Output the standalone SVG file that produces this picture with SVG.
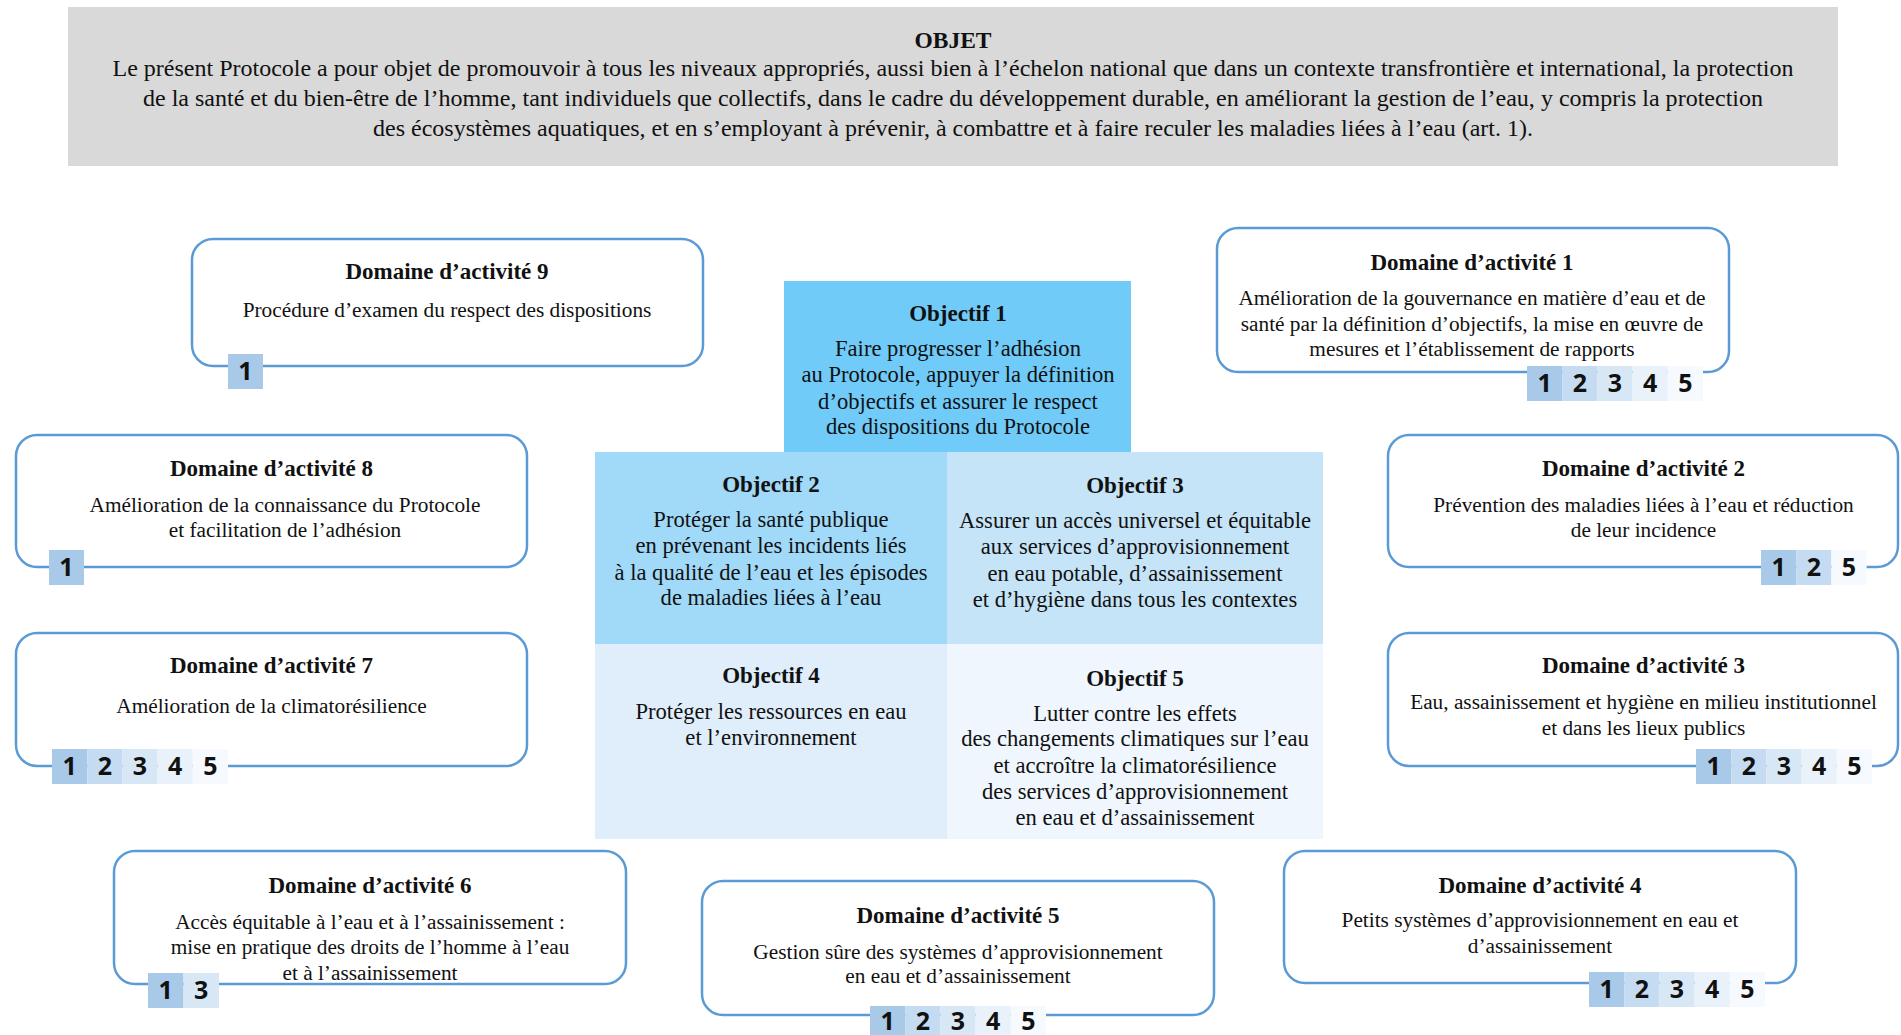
<svg xmlns="http://www.w3.org/2000/svg" width="1901" height="1035" viewBox="0 0 1901 1035">
<style>
.t{font-family:"Liberation Serif","Times New Roman",serif;fill:#111;text-anchor:middle}
.h{font-weight:bold;font-size:23.5px}
.hb{font-size:23px}
.dt{font-weight:bold;font-size:23px}
.db{font-size:21.3px}
.ot{font-weight:bold;font-size:23px}
.ob{font-size:22.6px}
.box{fill:#fff;stroke:#5b9bd5;stroke-width:2.5}
.n{font-family:"Noto Sans","Open Sans",sans-serif;font-weight:bold;font-size:25px;fill:#111;text-anchor:middle}
.c1{fill:#a9c9e8}.c2{fill:#c4dbf1}.c3{fill:#d8e7f6}.c4{fill:#e9f2fb}.c5{fill:#f6fafe}
</style>
<rect width="1901" height="1035" fill="#fff"/>
<g id="objet">
<rect x="68" y="7" width="1770" height="159" fill="#d9d9d9"/>
<text class="t h" x="953" y="48">OBJET</text>
<text class="t hb" x="953" y="76" textLength="1681" lengthAdjust="spacingAndGlyphs">Le présent Protocole a pour objet de promouvoir à tous les niveaux appropriés, aussi bien à l’échelon national que dans un contexte transfrontière et international, la protection</text>
<text class="t hb" x="953" y="106" textLength="1620" lengthAdjust="spacingAndGlyphs">de la santé et du bien-être de l’homme, tant individuels que collectifs, dans le cadre du développement durable, en améliorant la gestion de l’eau, y compris la protection</text>
<text class="t hb" x="953" y="135.5" textLength="1160" lengthAdjust="spacingAndGlyphs">des écosystèmes aquatiques, et en s’employant à prévenir, à combattre et à faire reculer les maladies liées à l’eau (art. 1).</text>
</g>
<g id="objectif1">
<rect x="784" y="281" width="347" height="172" fill="#70cbf9"/>
<text class="t ot" x="958" y="320.5">Objectif 1</text>
<text class="t ob" x="958" y="355.5">Faire progresser l’adhésion</text>
<text class="t ob" x="958" y="382">au Protocole, appuyer la définition</text>
<text class="t ob" x="958" y="409">d’objectifs et assurer le respect</text>
<text class="t ob" x="958" y="434">des dispositions du Protocole</text>
</g>
<g id="objectif2">
<rect x="595" y="452" width="352" height="192" fill="#a1d9f9"/>
<text class="t ot" x="771" y="491.5">Objectif 2</text>
<text class="t ob" x="771" y="526.5">Protéger la santé publique</text>
<text class="t ob" x="771" y="553">en prévenant les incidents liés</text>
<text class="t ob" x="771" y="580">à la qualité de l’eau et les épisodes</text>
<text class="t ob" x="771" y="605">de maladies liées à l’eau</text>
</g>
<g id="objectif3">
<rect x="947" y="452" width="376" height="192" fill="#c6e4f8"/>
<text class="t ot" x="1135" y="493">Objectif 3</text>
<text class="t ob" x="1135" y="527.5">Assurer un accès universel et équitable</text>
<text class="t ob" x="1135" y="554">aux services d’approvisionnement</text>
<text class="t ob" x="1135" y="581">en eau potable, d’assainissement</text>
<text class="t ob" x="1135" y="606.5">et d’hygiène dans tous les contextes</text>
</g>
<g id="objectif4">
<rect x="595" y="644" width="352" height="195" fill="#dfeefa"/>
<text class="t ot" x="771" y="683">Objectif 4</text>
<text class="t ob" x="771" y="719">Protéger les ressources en eau</text>
<text class="t ob" x="771" y="744.5">et l’environnement</text>
</g>
<g id="objectif5">
<rect x="947" y="644" width="376" height="195" fill="#eff6fd"/>
<text class="t ot" x="1135" y="685.5">Objectif 5</text>
<text class="t ob" x="1135" y="720.5">Lutter contre les effets</text>
<text class="t ob" x="1135" y="746">des changements climatiques sur l’eau</text>
<text class="t ob" x="1135" y="772.5">et accroître la climatorésilience</text>
<text class="t ob" x="1135" y="799">des services d’approvisionnement</text>
<text class="t ob" x="1135" y="824.5">en eau et d’assainissement</text>
</g>
<g id="domaine9">
<rect class="box" x="192" y="239" width="511" height="127" rx="21"/>
<text class="t dt" x="447" y="279">Domaine d’activité 9</text>
<text class="t db" x="447" y="317">Procédure d’examen du respect des dispositions</text>
<rect class="c1" x="228" y="354" width="35" height="35"/><text class="n" x="245.5" y="380">1</text>
</g>
<g id="domaine1">
<rect class="box" x="1217" y="228" width="512" height="144" rx="21"/>
<text class="t dt" x="1472" y="269.5">Domaine d’activité 1</text>
<text class="t db" x="1472" y="305">Amélioration de la gouvernance en matière d’eau et de</text>
<text class="t db" x="1472" y="331">santé par la définition d’objectifs, la mise en œuvre de</text>
<text class="t db" x="1472" y="356">mesures et l’établissement de rapports</text>
<rect class="c1" x="1527" y="366" width="35.2" height="35"/><text class="n" x="1544.6" y="392">1</text>
<rect class="c2" x="1562.2" y="366" width="35.2" height="35"/><text class="n" x="1579.8" y="392">2</text>
<rect class="c3" x="1597.4" y="366" width="35.2" height="35"/><text class="n" x="1615" y="392">3</text>
<rect class="c4" x="1632.6" y="366" width="35.2" height="35"/><text class="n" x="1650.2" y="392">4</text>
<rect class="c5" x="1667.8" y="366" width="35.2" height="35"/><text class="n" x="1685.4" y="392">5</text>
</g>
<g id="domaine8">
<rect class="box" x="16" y="435" width="511" height="132" rx="21"/>
<text class="t dt" x="271.5" y="475.5">Domaine d’activité 8</text>
<text class="t db" x="285" y="511.5">Amélioration de la connaissance du Protocole</text>
<text class="t db" x="285" y="537">et facilitation de l’adhésion</text>
<rect class="c1" x="49" y="550" width="35" height="35"/><text class="n" x="66.5" y="576">1</text>
</g>
<g id="domaine7">
<rect class="box" x="16" y="633" width="511" height="133" rx="21"/>
<text class="t dt" x="271.5" y="673">Domaine d’activité 7</text>
<text class="t db" x="271.5" y="713">Amélioration de la climatorésilience</text>
<rect class="c1" x="52" y="749" width="35.2" height="35"/><text class="n" x="69.6" y="775">1</text>
<rect class="c2" x="87.2" y="749" width="35.2" height="35"/><text class="n" x="104.8" y="775">2</text>
<rect class="c3" x="122.4" y="749" width="35.2" height="35"/><text class="n" x="140" y="775">3</text>
<rect class="c4" x="157.6" y="749" width="35.2" height="35"/><text class="n" x="175.2" y="775">4</text>
<rect class="c5" x="192.8" y="749" width="35.2" height="35"/><text class="n" x="210.4" y="775">5</text>
</g>
<g id="domaine2">
<rect class="box" x="1388" y="435" width="510" height="132" rx="21"/>
<text class="t dt" x="1643.5" y="475.5">Domaine d’activité 2</text>
<text class="t db" x="1643.5" y="511.5">Prévention des maladies liées à l’eau et réduction</text>
<text class="t db" x="1643.5" y="537">de leur incidence</text>
<rect class="c1" x="1761" y="550" width="35.2" height="35"/><text class="n" x="1778.6" y="576">1</text>
<rect class="c2" x="1796.2" y="550" width="35.2" height="35"/><text class="n" x="1813.8" y="576">2</text>
<rect class="c5" x="1831.4" y="550" width="35.2" height="35"/><text class="n" x="1849" y="576">5</text>
</g>
<g id="domaine3">
<rect class="box" x="1388" y="633" width="510" height="133" rx="21"/>
<text class="t dt" x="1643.5" y="673">Domaine d’activité 3</text>
<text class="t db" x="1643.5" y="709">Eau, assainissement et hygiène en milieu institutionnel</text>
<text class="t db" x="1643.5" y="734.5">et dans les lieux publics</text>
<rect class="c1" x="1696" y="749" width="35.2" height="35"/><text class="n" x="1713.6" y="775">1</text>
<rect class="c2" x="1731.2" y="749" width="35.2" height="35"/><text class="n" x="1748.8" y="775">2</text>
<rect class="c3" x="1766.4" y="749" width="35.2" height="35"/><text class="n" x="1784" y="775">3</text>
<rect class="c4" x="1801.6" y="749" width="35.2" height="35"/><text class="n" x="1819.2" y="775">4</text>
<rect class="c5" x="1836.8" y="749" width="35.2" height="35"/><text class="n" x="1854.4" y="775">5</text>
</g>
<g id="domaine6">
<rect class="box" x="114" y="851" width="512" height="133" rx="21"/>
<text class="t dt" x="370" y="892.5">Domaine d’activité 6</text>
<text class="t db" x="370" y="928.5">Accès équitable à l’eau et à l’assainissement :</text>
<text class="t db" x="370" y="954">mise en pratique des droits de l’homme à l’eau</text>
<text class="t db" x="370" y="979.5">et à l’assainissement</text>
<rect class="c1" x="148" y="973" width="35.5" height="35"/><text class="n" x="165.7" y="999">1</text>
<rect class="c3" x="183.5" y="973" width="35.5" height="35"/><text class="n" x="201.2" y="999">3</text>
</g>
<g id="domaine5">
<rect class="box" x="702" y="881" width="512" height="134" rx="21"/>
<text class="t dt" x="958" y="923">Domaine d’activité 5</text>
<text class="t db" x="958" y="959">Gestion sûre des systèmes d’approvisionnement</text>
<text class="t db" x="958" y="983">en eau et d’assainissement</text>
<rect class="c1" x="870" y="1006" width="35.2" height="35"/><text class="n" x="887.6" y="1030">1</text>
<rect class="c2" x="905.2" y="1006" width="35.2" height="35"/><text class="n" x="922.8" y="1030">2</text>
<rect class="c3" x="940.4" y="1006" width="35.2" height="35"/><text class="n" x="958" y="1030">3</text>
<rect class="c4" x="975.6" y="1006" width="35.2" height="35"/><text class="n" x="993.2" y="1030">4</text>
<rect class="c5" x="1010.8" y="1006" width="35.2" height="35"/><text class="n" x="1028.4" y="1030">5</text>
</g>
<g id="domaine4">
<rect class="box" x="1284" y="851" width="512" height="132" rx="21"/>
<text class="t dt" x="1540" y="892.5">Domaine d’activité 4</text>
<text class="t db" x="1540" y="927">Petits systèmes d’approvisionnement en eau et</text>
<text class="t db" x="1540" y="953">d’assainissement</text>
<rect class="c1" x="1589" y="972" width="35.2" height="35"/><text class="n" x="1606.6" y="998">1</text>
<rect class="c2" x="1624.2" y="972" width="35.2" height="35"/><text class="n" x="1641.8" y="998">2</text>
<rect class="c3" x="1659.4" y="972" width="35.2" height="35"/><text class="n" x="1677" y="998">3</text>
<rect class="c4" x="1694.6" y="972" width="35.2" height="35"/><text class="n" x="1712.2" y="998">4</text>
<rect class="c5" x="1729.8" y="972" width="35.2" height="35"/><text class="n" x="1747.4" y="998">5</text>
</g>
</svg>
